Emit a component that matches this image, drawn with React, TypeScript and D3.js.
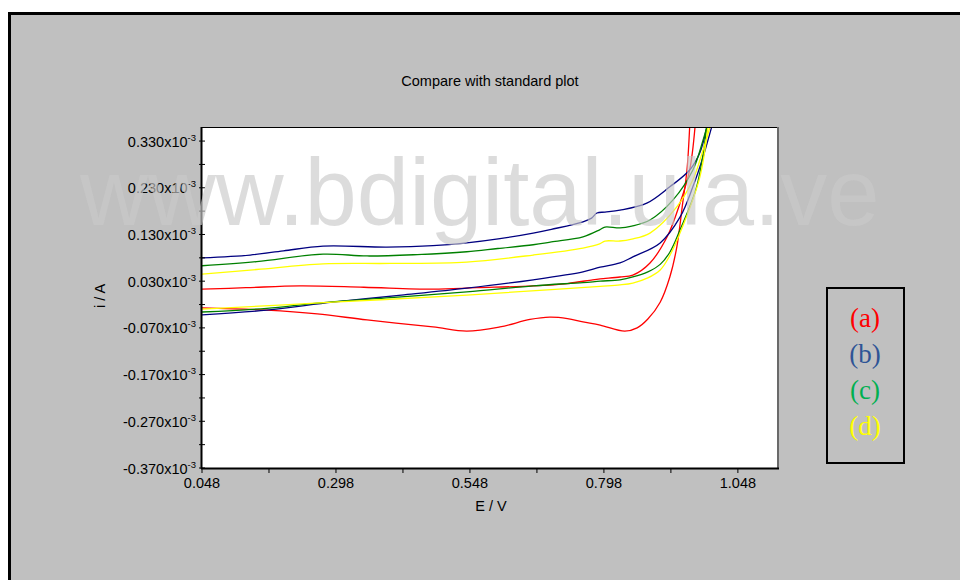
import React from "react";
import * as d3 from "d3";

type Pt = [number, number];

const xTicks = [0.048, 0.298, 0.548, 0.798, 1.048];
const yTicks = [-0.37, -0.27, -0.17, -0.07, 0.03, 0.13, 0.23, 0.33];
const legendLabels = ["(a)", "(b)", "(c)", "(d)"];
const legendColors = ["#ff0000", "#2f5496", "#00b050", "#ffff00"];

const redForward: Pt[] = [[0.048,-0.027],[0.169,-0.032],[0.263,-0.040],[0.356,-0.053],[0.479,-0.068],[0.542,-0.077],[0.604,-0.068],[0.660,-0.052],[0.697,-0.047],[0.730,-0.050],[0.759,-0.057],[0.791,-0.064],[0.837,-0.077],[0.860,-0.070],[0.880,-0.051],[0.903,-0.015],[0.921,0.039],[0.934,0.103],[0.945,0.197],[0.953,0.268],[0.958,0.360]];
const redReverse: Pt[] = [[0.968,0.360],[0.958,0.268],[0.940,0.197],[0.916,0.125],[0.884,0.069],[0.852,0.043],[0.828,0.039],[0.791,0.035],[0.777,0.033],[0.730,0.025],[0.666,0.020],[0.560,0.016],[0.479,0.013],[0.350,0.017],[0.231,0.020],[0.130,0.016],[0.048,0.013]];

const blueForward: Pt[] = [[0.048,-0.042],[0.169,-0.032],[0.292,-0.015],[0.420,0.000],[0.542,0.015],[0.666,0.033],[0.759,0.050],[0.791,0.060],[0.828,0.069],[0.852,0.082],[0.903,0.112],[0.940,0.167],[0.964,0.232],[0.983,0.296],[0.999,0.360]];
const blueReverse: Pt[] = [[0.990,0.360],[0.977,0.305],[0.958,0.268],[0.921,0.232],[0.878,0.197],[0.828,0.182],[0.800,0.178],[0.785,0.176],[0.775,0.165],[0.759,0.157],[0.700,0.141],[0.666,0.133],[0.604,0.121],[0.542,0.112],[0.479,0.106],[0.393,0.103],[0.274,0.105],[0.200,0.095],[0.138,0.086],[0.048,0.080]];

const greenForward: Pt[] = [[0.048,-0.036],[0.169,-0.028],[0.263,-0.017],[0.400,-0.005],[0.542,0.007],[0.666,0.020],[0.759,0.027],[0.791,0.030],[0.828,0.033],[0.852,0.039],[0.880,0.050],[0.903,0.066],[0.921,0.092],[0.940,0.140],[0.971,0.232],[0.990,0.360]];
const greenReverse: Pt[] = [[0.990,0.360],[0.983,0.332],[0.964,0.268],[0.927,0.204],[0.884,0.161],[0.850,0.148],[0.828,0.144],[0.800,0.146],[0.790,0.140],[0.759,0.125],[0.700,0.114],[0.666,0.108],[0.600,0.100],[0.542,0.093],[0.450,0.087],[0.356,0.084],[0.274,0.088],[0.150,0.072],[0.048,0.063]];

const yellowForward: Pt[] = [[0.048,-0.030],[0.292,-0.015],[0.542,0.000],[0.700,0.012],[0.791,0.019],[0.828,0.022],[0.852,0.026],[0.880,0.037],[0.903,0.054],[0.921,0.085],[0.940,0.133],[0.977,0.253],[0.992,0.360]];
const yellowReverse: Pt[] = [[0.996,0.360],[0.983,0.311],[0.964,0.247],[0.934,0.189],[0.884,0.133],[0.850,0.120],[0.828,0.116],[0.800,0.116],[0.790,0.110],[0.759,0.101],[0.666,0.086],[0.542,0.071],[0.400,0.068],[0.274,0.067],[0.150,0.055],[0.048,0.045]];

const curves = [
  { color: "#ff0000", branches: [redForward, redReverse] },
  { color: "#000080", branches: [blueForward, blueReverse] },
  { color: "#008000", branches: [greenForward, greenReverse] },
  { color: "#ffff00", branches: [yellowForward, yellowReverse] },
];

const FONT = "'Liberation Sans', Arial, sans-serif";

export default function App() {
  const W = 960, H = 580;
  const L = 202, R = 777, T = 128, B = 468;
  const x = d3.scaleLinear().domain([0.048, 1.121]).range([L, R]);
  const y = d3.scaleLinear().domain([-0.37, 0.358]).range([B, T]);
  const line = d3
    .line<Pt>()
    .x((d) => x(d[0]))
    .y((d) => y(d[1]))
    .curve(d3.curveCatmullRom.alpha(0.5));
  const xMinor = d3.range(0, 9).map((k) => 0.048 + k * 0.125).filter((v) => v <= 1.121);
  const yMinor = d3.range(0, 15).map((k) => -0.37 + k * 0.05).filter((v) => v <= 0.358);

  return (
    <div style={{ position: "absolute", left: 0, top: 0, width: W, height: H }}>
      <svg width={W} height={H} style={{ display: "block" }}>
        <defs>
          <clipPath id="plotclip">
            <rect x={L} y={T} width={R - L} height={B - T} />
          </clipPath>
        </defs>
        <rect x={0} y={0} width={W} height={H} fill="#ffffff" />
        <rect x={9.5} y={13.5} width={W + 20} height={H + 20} fill="#c0c0c0" stroke="#000" strokeWidth={3} />
        <text x={490} y={86} textAnchor="middle" fontFamily={FONT} fontSize={14.5} fill="#000">
          Compare with standard plot
        </text>
        <rect x={L} y={T} width={R - L} height={B - T} fill="#ffffff" />
        <g clipPath="url(#plotclip)">
          {curves.map((c, i) =>
            c.branches.map((b, j) => (
              <path key={`${i}-${j}`} d={line(b) || ""} fill="none" stroke={c.color} strokeWidth={1.3} />
            ))
          )}
        </g>
        {/* frame */}
        <line x1={L} x2={R} y1={T - 0.5} y2={T - 0.5} stroke="#000" strokeWidth={1} />
        <line x1={R + 1} x2={R + 1} y1={T - 1} y2={B + 1} stroke="#6a6a6a" strokeWidth={2} />
        <line x1={L - 1} x2={R + 2} y1={B + 0.5} y2={B + 0.5} stroke="#000" strokeWidth={2} />
        <line x1={L - 0.5} x2={L - 0.5} y1={T - 1} y2={B + 1} stroke="#000" strokeWidth={2} />
        {/* y ticks */}
        {yMinor.map((v, i) => (
          <line key={`ym${i}`} x1={L - 3} x2={L + 3} y1={y(v)} y2={y(v)} stroke="#000" strokeWidth={1} />
        ))}
        {yTicks.map((v, i) => (
          <text key={`yt${i}`} x={196} y={y(v) + 5.5} textAnchor="end" fontFamily={FONT} fontSize={14.5} fill="#000">
            {v.toFixed(3)}x10
            <tspan dy={-6} fontSize={9.5}>-3</tspan>
          </text>
        ))}
        {/* x ticks */}
        {xMinor.map((v, i) => (
          <line key={`xm${i}`} x1={x(v)} x2={x(v)} y1={B} y2={B + 5} stroke="#000" strokeWidth={1} />
        ))}
        {xTicks.map((v, i) => (
          <text key={`xt${i}`} x={x(v)} y={488} textAnchor="middle" fontFamily={FONT} fontSize={14.5} fill="#000">
            {v.toFixed(3)}
          </text>
        ))}
        <text x={491} y={511} textAnchor="middle" fontFamily={FONT} fontSize={14.5} fill="#000">
          E / V
        </text>
        <text transform="translate(105,296) rotate(-90)" textAnchor="middle" fontFamily={FONT} fontSize={14.5} fill="#000">
          i / A
        </text>
        {/* legend */}
        <rect x={827} y={288} width={77} height={175} fill="none" stroke="#000" strokeWidth={2} />
        {legendLabels.map((s, i) => (
          <text key={s} x={865} y={327 + i * 36} textAnchor="middle" fontFamily="'Liberation Serif', 'Times New Roman', serif" fontSize={27} fill={legendColors[i]}>
            {s}
          </text>
        ))}
        {/* watermark */}
        <text x={80} y={225} fontFamily={FONT} fontSize={94} fill="#c9c9c9" fillOpacity={0.65}>
          www.bdigital.ula.ve
        </text>
      </svg>
    </div>
  );
}
